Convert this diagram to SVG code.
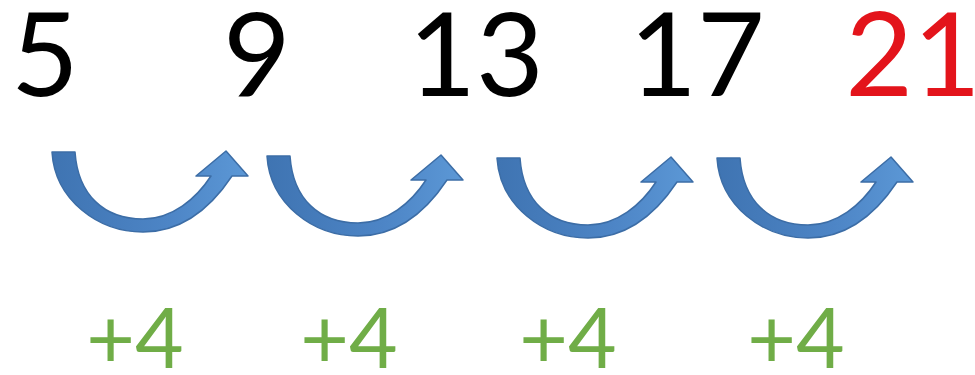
<svg xmlns="http://www.w3.org/2000/svg" width="975" height="375" viewBox="0 0 975 375">
  <style>
    .num { font-family: Lato, "Open Sans", "Liberation Sans", sans-serif; font-size: 117px; text-anchor: middle; fill: #000; }
    .red { fill: #E3141B; }
    .lbl { font-family: Lato, "Open Sans", "Liberation Sans", sans-serif; font-size: 84px; text-anchor: middle; fill: #70AD47; }
    .arrow { fill: url(#blue); stroke: #3C6DA6; stroke-width: 1.5; stroke-linejoin: round; }
  </style>
  <defs>
    <linearGradient id="blue" x1="0" y1="0" x2="1" y2="0">
      <stop offset="0" stop-color="#3F74B2"/>
      <stop offset="0.6" stop-color="#4D85C6"/>
      <stop offset="1" stop-color="#5C98D6"/>
    </linearGradient>
    <path id="curve" d="M 52 152 C 55 200 98 232 143 232 C 185 232 214 203 232 176 L 248 176 L 226 151 L 196 176 L 211 176 C 196 199 172 219 143 219 C 104 219 78 195 75 152 Z"/>
  </defs>
  <rect width="975" height="375" fill="#fff"/>
  <g id="n5"><text class="num" x="45" y="96">5</text></g>
  <g id="n9"><text class="num" x="257" y="96">9</text></g>
  <g id="n13"><text class="num" x="476" y="96">13</text></g>
  <g id="n17"><text class="num" x="697" y="96">17</text></g>
  <g id="n21"><text class="num red" x="913" y="96">21</text></g>
  <g id="connectors">
    <use href="#curve" class="arrow"/>
    <use href="#curve" class="arrow" transform="translate(215 4)"/>
    <use href="#curve" class="arrow" transform="translate(445 6)"/>
    <use href="#curve" class="arrow" transform="translate(665 6)"/>
  </g>
  <g id="labels">
    <text class="lbl" x="135" y="368">+4</text>
    <text class="lbl" x="349" y="368">+4</text>
    <text class="lbl" x="568" y="368">+4</text>
    <text class="lbl" x="796" y="368">+4</text>
  </g>
</svg>
